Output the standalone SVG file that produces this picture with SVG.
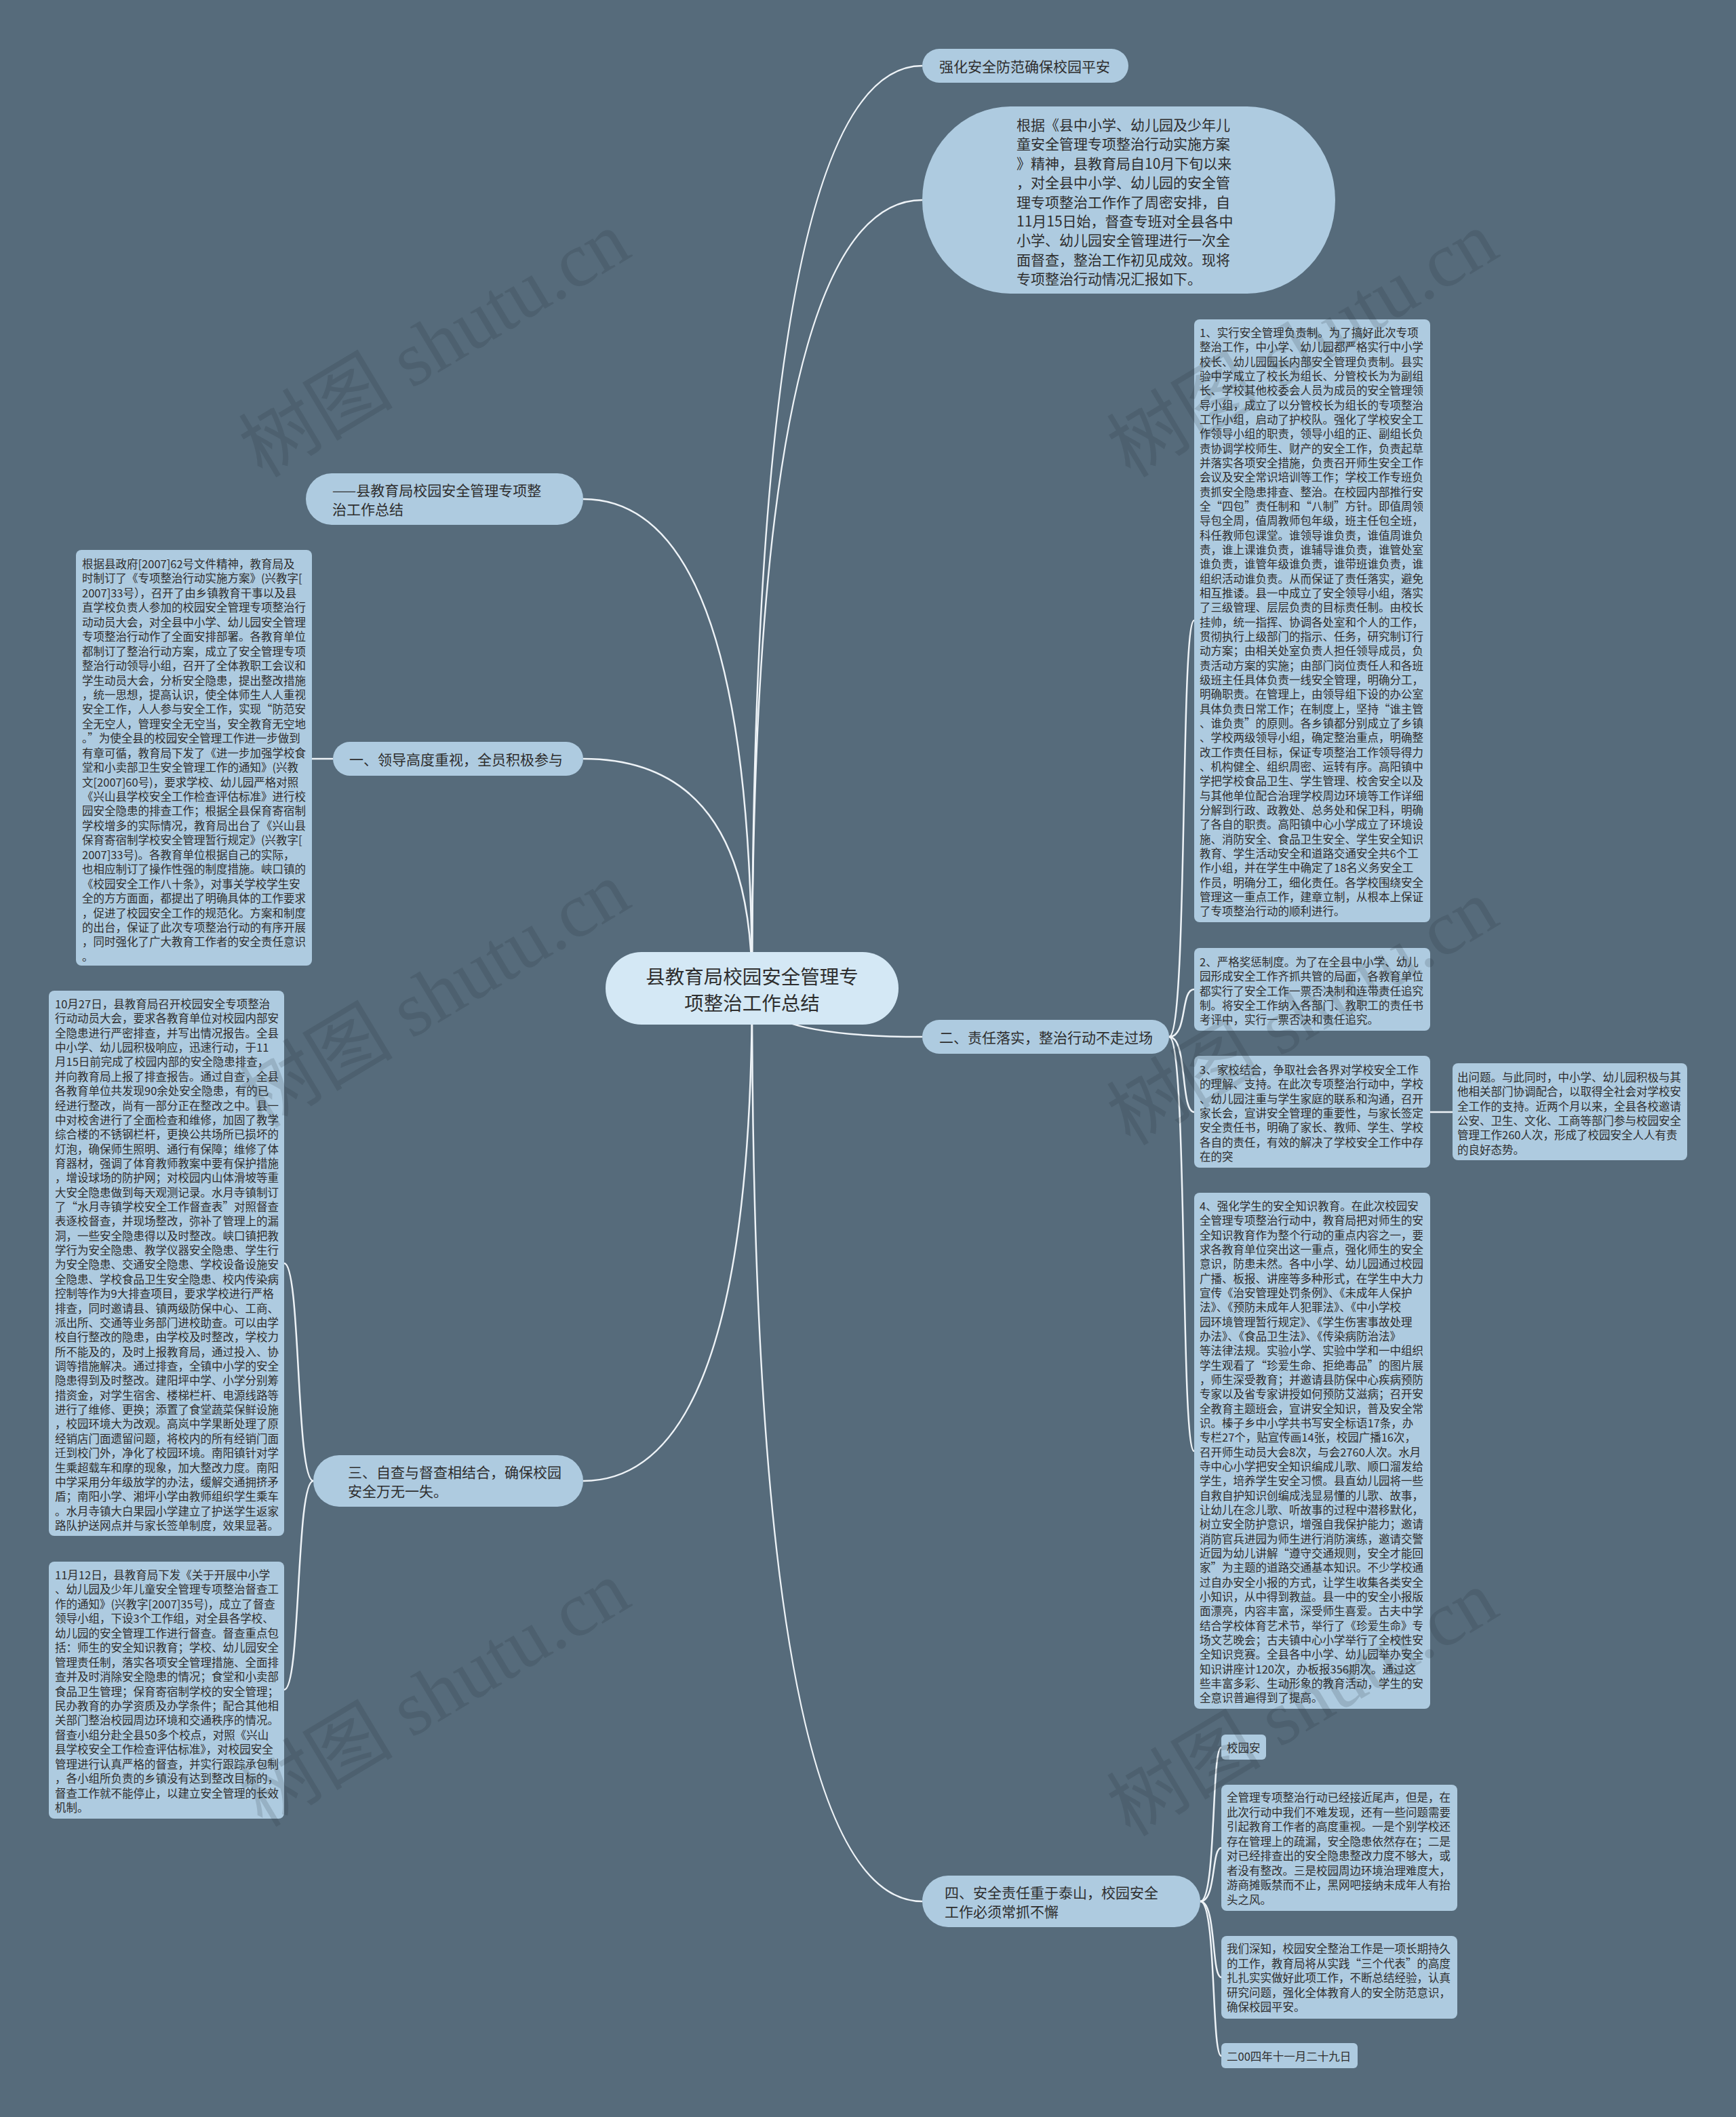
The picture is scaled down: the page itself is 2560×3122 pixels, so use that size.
<svg xmlns="http://www.w3.org/2000/svg" width="2560" height="3122" viewBox="0 0 2560 3122">
<defs>
<style>
.n{fill:#aecbe0}
.t{font-family:"Noto Sans CJK SC","Noto Sans",sans-serif;fill:#2e2e2e;dominant-baseline:central}
.p{font-size:16.5px}
.m{font-size:21px}
.c{fill:none;stroke:#eef3f7;stroke-width:2.5}
.w{font-family:"Liberation Serif","Noto Sans CJK SC",serif;font-size:114px;fill:#1f2a33;fill-opacity:0.16;dominant-baseline:central}
</style>
</defs>
<rect x="0" y="0" width="2560" height="3122" fill="#566b7b"/>
<g id="connectors">
<path class="c" d="M1109,1457 Q1109,97 1360,97"/>
<path class="c" d="M1109,1457 Q1109,295 1360,295"/>
<path class="c" d="M1109,1457 Q1109,736 860,736"/>
<path class="c" d="M1109,1457 Q1109,1119 860,1119"/>
<path class="c" d="M1109,1457 Q1109,1529 1360,1529"/>
<path class="c" d="M1109,1457 Q1109,2184 860,2184"/>
<path class="c" d="M1109,1457 Q1109,2804 1360,2804"/>
<path class="c" d="M491,1119 L460,1119"/>
<path class="c" d="M462,2184 C436,2184 444,1863 419,1863"/>
<path class="c" d="M462,2184 C436,2184 444,2492 419,2492"/>
<path class="c" d="M1724,1529 C1752,1529 1740,915 1761,915"/>
<path class="c" d="M1724,1529 C1752,1529 1740,1459 1761,1459"/>
<path class="c" d="M1724,1529 C1752,1529 1740,1640 1761,1640"/>
<path class="c" d="M1724,1529 C1752,1529 1740,2140 1761,2140"/>
<path class="c" d="M2109,1640 L2142,1640"/>
<path class="c" d="M1770,2804 C1794,2804 1786,2577 1801,2577"/>
<path class="c" d="M1770,2804 C1794,2804 1786,2725 1801,2725"/>
<path class="c" d="M1770,2804 C1794,2804 1786,2916 1801,2916"/>
<path class="c" d="M1770,2804 C1794,2804 1786,3032 1801,3032"/>
</g>
<g id="root">
<rect x="893" y="1404" width="432" height="107" rx="53" fill="#d4e8f5"/>
<text class="t" style="font-size:28.5px" text-anchor="middle"><tspan x="1109" y="1438">县教育局校园安全管理专</tspan><tspan x="1109" y="1477">项整治工作总结</tspan></text>
</g>
<g id="n-qianghua">
<rect class="n" x="1360" y="72" width="304" height="50" rx="25"/>
<text class="t m" x="1385" y="97">强化安全防范确保校园平安</text>
</g>
<g id="n-intro">
<rect class="n" x="1360" y="157" width="609" height="276" rx="130" ry="138"/>
<text class="t m"><tspan x="1499" y="183">根据《县中小学、幼儿园及少年儿</tspan><tspan x="1499" dy="28.4">童安全管理专项整治行动实施方案</tspan><tspan x="1499" dy="28.4">》精神，县教育局自10月下旬以来</tspan><tspan x="1499" dy="28.4">，对全县中小学、幼儿园的安全管</tspan><tspan x="1499" dy="28.4">理专项整治工作作了周密安排，自</tspan><tspan x="1499" dy="28.4">11月15日始，督查专班对全县各中</tspan><tspan x="1499" dy="28.4">小学、幼儿园安全管理进行一次全</tspan><tspan x="1499" dy="28.4">面督查，整治工作初见成效。现将</tspan><tspan x="1499" dy="28.4">专项整治行动情况汇报如下。</tspan></text>
</g>
<g id="n-subtitle">
<rect class="n" x="451" y="698" width="409" height="76" rx="38"/>
<text class="t m"><tspan x="490" y="722">——县教育局校园安全管理专项整</tspan><tspan x="490" dy="28">治工作总结</tspan></text>
</g>
<g id="n-branch1">
<rect class="n" x="491" y="1094" width="369" height="50" rx="25"/>
<text class="t m" x="515" y="1119">一、领导高度重视，全员积极参与</text>
</g>
<g id="n-branch1-text">
<rect class="n" x="112" y="811" width="348" height="613" rx="8"/>
<text class="t p"><tspan x="121" y="831">根据县政府[2007]62号文件精神，教育局及</tspan><tspan x="121" dy="21.44">时制订了《专项整治行动实施方案》(兴教字[</tspan><tspan x="121" dy="21.44">2007]33号），召开了由乡镇教育干事以及县</tspan><tspan x="121" dy="21.44">直学校负责人参加的校园安全管理专项整治行</tspan><tspan x="121" dy="21.44">动动员大会，对全县中小学、幼儿园安全管理</tspan><tspan x="121" dy="21.44">专项整治行动作了全面安排部署。各教育单位</tspan><tspan x="121" dy="21.44">都制订了整治行动方案，成立了安全管理专项</tspan><tspan x="121" dy="21.44">整治行动领导小组，召开了全体教职工会议和</tspan><tspan x="121" dy="21.44">学生动员大会，分析安全隐患，提出整改措施</tspan><tspan x="121" dy="21.44">，统一思想，提高认识，使全体师生人人重视</tspan><tspan x="121" dy="21.44">安全工作，人人参与安全工作，实现“防范安</tspan><tspan x="121" dy="21.44">全无空人，管理安全无空当，安全教育无空地</tspan><tspan x="121" dy="21.44">。”为使全县的校园安全管理工作进一步做到</tspan><tspan x="121" dy="21.44">有章可循，教育局下发了《进一步加强学校食</tspan><tspan x="121" dy="21.44">堂和小卖部卫生安全管理工作的通知》(兴教</tspan><tspan x="121" dy="21.44">文[2007]60号)，要求学校、幼儿园严格对照</tspan><tspan x="121" dy="21.44">《兴山县学校安全工作检查评估标准》进行校</tspan><tspan x="121" dy="21.44">园安全隐患的排查工作；根据全县保育寄宿制</tspan><tspan x="121" dy="21.44">学校增多的实际情况，教育局出台了《兴山县</tspan><tspan x="121" dy="21.44">保育寄宿制学校安全管理暂行规定》(兴教字[</tspan><tspan x="121" dy="21.44">2007]33号)。各教育单位根据自己的实际，</tspan><tspan x="121" dy="21.44">也相应制订了操作性强的制度措施。峡口镇的</tspan><tspan x="121" dy="21.44">《校园安全工作八十条》，对事关学校学生安</tspan><tspan x="121" dy="21.44">全的方方面面，都提出了明确具体的工作要求</tspan><tspan x="121" dy="21.44">，促进了校园安全工作的规范化。方案和制度</tspan><tspan x="121" dy="21.44">的出台，保证了此次专项整治行动的有序开展</tspan><tspan x="121" dy="21.44">，同时强化了广大教育工作者的安全责任意识</tspan><tspan x="121" dy="21.44">。</tspan></text>
</g>
<g id="n-branch2">
<rect class="n" x="1360" y="1504" width="364" height="50" rx="25"/>
<text class="t m" x="1385" y="1529">二、责任落实，整治行动不走过场</text>
</g>
<g id="n-branch2-1">
<rect class="n" x="1761" y="471" width="348" height="889" rx="8"/>
<text class="t p"><tspan x="1769" y="490">1、实行安全管理负责制。为了搞好此次专项</tspan><tspan x="1769" dy="21.33">整治工作，中小学、幼儿园都严格实行中小学</tspan><tspan x="1769" dy="21.33">校长、幼儿园园长内部安全管理负责制。县实</tspan><tspan x="1769" dy="21.33">验中学成立了校长为组长、分管校长为为副组</tspan><tspan x="1769" dy="21.33">长、学校其他校委会人员为成员的安全管理领</tspan><tspan x="1769" dy="21.33">导小组，成立了以分管校长为组长的专项整治</tspan><tspan x="1769" dy="21.33">工作小组，启动了护校队。强化了学校安全工</tspan><tspan x="1769" dy="21.33">作领导小组的职责，领导小组的正、副组长负</tspan><tspan x="1769" dy="21.33">责协调学校师生、财产的安全工作，负责起草</tspan><tspan x="1769" dy="21.33">并落实各项安全措施，负责召开师生安全工作</tspan><tspan x="1769" dy="21.33">会议及安全常识培训等工作；学校工作专班负</tspan><tspan x="1769" dy="21.33">责抓安全隐患排查、整治。在校园内部推行安</tspan><tspan x="1769" dy="21.33">全“四包”责任制和“八制”方针。即值周领</tspan><tspan x="1769" dy="21.33">导包全周，值周教师包年级，班主任包全班，</tspan><tspan x="1769" dy="21.33">科任教师包课堂。谁领导谁负责，谁值周谁负</tspan><tspan x="1769" dy="21.33">责，谁上课谁负责，谁辅导谁负责，谁管处室</tspan><tspan x="1769" dy="21.33">谁负责，谁管年级谁负责，谁带班谁负责，谁</tspan><tspan x="1769" dy="21.33">组织活动谁负责。从而保证了责任落实，避免</tspan><tspan x="1769" dy="21.33">相互推诿。县一中成立了安全领导小组，落实</tspan><tspan x="1769" dy="21.33">了三级管理、层层负责的目标责任制。由校长</tspan><tspan x="1769" dy="21.33">挂帅，统一指挥、协调各处室和个人的工作，</tspan><tspan x="1769" dy="21.33">贯彻执行上级部门的指示、任务，研究制订行</tspan><tspan x="1769" dy="21.33">动方案；由相关处室负责人担任领导成员，负</tspan><tspan x="1769" dy="21.33">责活动方案的实施；由部门岗位责任人和各班</tspan><tspan x="1769" dy="21.33">级班主任具体负责一线安全管理，明确分工，</tspan><tspan x="1769" dy="21.33">明确职责。在管理上，由领导组下设的办公室</tspan><tspan x="1769" dy="21.33">具体负责日常工作；在制度上，坚持“谁主管</tspan><tspan x="1769" dy="21.33">、谁负责”的原则。各乡镇都分别成立了乡镇</tspan><tspan x="1769" dy="21.33">、学校两级领导小组，确定整治重点，明确整</tspan><tspan x="1769" dy="21.33">改工作责任目标，保证专项整治工作领导得力</tspan><tspan x="1769" dy="21.33">、机构健全、组织周密、运转有序。高阳镇中</tspan><tspan x="1769" dy="21.33">学把学校食品卫生、学生管理、校舍安全以及</tspan><tspan x="1769" dy="21.33">与其他单位配合治理学校周边环境等工作详细</tspan><tspan x="1769" dy="21.33">分解到行政、政教处、总务处和保卫科，明确</tspan><tspan x="1769" dy="21.33">了各自的职责。高阳镇中心小学成立了环境设</tspan><tspan x="1769" dy="21.33">施、消防安全、食品卫生安全、学生安全知识</tspan><tspan x="1769" dy="21.33">教育、学生活动安全和道路交通安全共6个工</tspan><tspan x="1769" dy="21.33">作小组，并在学生中确定了18名义务安全工</tspan><tspan x="1769" dy="21.33">作员，明确分工，细化责任。各学校围绕安全</tspan><tspan x="1769" dy="21.33">管理这一重点工作，建章立制，从根本上保证</tspan><tspan x="1769" dy="21.33">了专项整治行动的顺利进行。</tspan></text>
</g>
<g id="n-branch2-2">
<rect class="n" x="1761" y="1398" width="348" height="122" rx="8"/>
<text class="t p"><tspan x="1769" y="1418">2、严格奖惩制度。为了在全县中小学、幼儿</tspan><tspan x="1769" dy="21.33">园形成安全工作齐抓共管的局面，各教育单位</tspan><tspan x="1769" dy="21.33">都实行了安全工作一票否决制和连带责任追究</tspan><tspan x="1769" dy="21.33">制。将安全工作纳入各部门、教职工的责任书</tspan><tspan x="1769" dy="21.33">考评中，实行一票否决和责任追究。</tspan></text>
</g>
<g id="n-branch2-3">
<rect class="n" x="1761" y="1557" width="348" height="165" rx="8"/>
<text class="t p"><tspan x="1769" y="1577">3、家校结合，争取社会各界对学校安全工作</tspan><tspan x="1769" dy="21.33">的理解、支持。在此次专项整治行动中，学校</tspan><tspan x="1769" dy="21.33">、幼儿园注重与学生家庭的联系和沟通，召开</tspan><tspan x="1769" dy="21.33">家长会，宣讲安全管理的重要性，与家长签定</tspan><tspan x="1769" dy="21.33">安全责任书，明确了家长、教师、学生、学校</tspan><tspan x="1769" dy="21.33">各自的责任，有效的解决了学校安全工作中存</tspan><tspan x="1769" dy="21.33">在的突</tspan></text>
</g>
<g id="n-branch2-3a">
<rect class="n" x="2142" y="1568" width="346" height="143" rx="8"/>
<text class="t p"><tspan x="2149" y="1588">出问题。与此同时，中小学、幼儿园积极与其</tspan><tspan x="2149" dy="21.33">他相关部门协调配合，以取得全社会对学校安</tspan><tspan x="2149" dy="21.33">全工作的支持。近两个月以来，全县各校邀请</tspan><tspan x="2149" dy="21.33">公安、卫生、文化、工商等部门参与校园安全</tspan><tspan x="2149" dy="21.33">管理工作260人次，形成了校园安全人人有责</tspan><tspan x="2149" dy="21.33">的良好态势。</tspan></text>
</g>
<g id="n-branch2-4">
<rect class="n" x="1761" y="1759" width="348" height="761" rx="8"/>
<text class="t p"><tspan x="1769" y="1778">4、强化学生的安全知识教育。在此次校园安</tspan><tspan x="1769" dy="21.33">全管理专项整治行动中，教育局把对师生的安</tspan><tspan x="1769" dy="21.33">全知识教育作为整个行动的重点内容之一，要</tspan><tspan x="1769" dy="21.33">求各教育单位突出这一重点，强化师生的安全</tspan><tspan x="1769" dy="21.33">意识，防患未然。各中小学、幼儿园通过校园</tspan><tspan x="1769" dy="21.33">广播、板报、讲座等多种形式，在学生中大力</tspan><tspan x="1769" dy="21.33">宣传《治安管理处罚条例》、《未成年人保护</tspan><tspan x="1769" dy="21.33">法》、《预防未成年人犯罪法》、《中小学校</tspan><tspan x="1769" dy="21.33">园环境管理暂行规定》、《学生伤害事故处理</tspan><tspan x="1769" dy="21.33">办法》、《食品卫生法》、《传染病防治法》</tspan><tspan x="1769" dy="21.33">等法律法规。实验小学、实验中学和一中组织</tspan><tspan x="1769" dy="21.33">学生观看了“珍爱生命、拒绝毒品”的图片展</tspan><tspan x="1769" dy="21.33">，师生深受教育；并邀请县防保中心疾病预防</tspan><tspan x="1769" dy="21.33">专家以及省专家讲授如何预防艾滋病；召开安</tspan><tspan x="1769" dy="21.33">全教育主题班会，宣讲安全知识，普及安全常</tspan><tspan x="1769" dy="21.33">识。榛子乡中小学共书写安全标语17条，办</tspan><tspan x="1769" dy="21.33">专栏27个，贴宣传画14张，校园广播16次，</tspan><tspan x="1769" dy="21.33">召开师生动员大会8次，与会2760人次。水月</tspan><tspan x="1769" dy="21.33">寺中心小学把安全知识编成儿歌、顺口溜发给</tspan><tspan x="1769" dy="21.33">学生，培养学生安全习惯。县直幼儿园将一些</tspan><tspan x="1769" dy="21.33">自救自护知识创编成浅显易懂的儿歌、故事，</tspan><tspan x="1769" dy="21.33">让幼儿在念儿歌、听故事的过程中潜移默化，</tspan><tspan x="1769" dy="21.33">树立安全防护意识，增强自我保护能力；邀请</tspan><tspan x="1769" dy="21.33">消防官兵进园为师生进行消防演练，邀请交警</tspan><tspan x="1769" dy="21.33">近园为幼儿讲解“遵守交通规则，安全才能回</tspan><tspan x="1769" dy="21.33">家”为主题的道路交通基本知识。不少学校通</tspan><tspan x="1769" dy="21.33">过自办安全小报的方式，让学生收集各类安全</tspan><tspan x="1769" dy="21.33">小知识，从中得到教益。县一中的安全小报版</tspan><tspan x="1769" dy="21.33">面漂亮，内容丰富，深受师生喜爱。古夫中学</tspan><tspan x="1769" dy="21.33">结合学校体育艺术节，举行了《珍爱生命》专</tspan><tspan x="1769" dy="21.33">场文艺晚会；古夫镇中心小学举行了全校性安</tspan><tspan x="1769" dy="21.33">全知识竞赛。全县各中小学、幼儿园举办安全</tspan><tspan x="1769" dy="21.33">知识讲座计120次，办板报356期次。通过这</tspan><tspan x="1769" dy="21.33">些丰富多彩、生动形象的教育活动，学生的安</tspan><tspan x="1769" dy="21.33">全意识普遍得到了提高。</tspan></text>
</g>
<g id="n-branch3">
<rect class="n" x="462" y="2146" width="398" height="76" rx="38"/>
<text class="t m"><tspan x="513" y="2170">三、自查与督查相结合，确保校园</tspan><tspan x="513" dy="28">安全万无一失。</tspan></text>
</g>
<g id="n-branch3-1">
<rect class="n" x="72" y="1461" width="347" height="804" rx="8"/>
<text class="t p"><tspan x="81" y="1480">10月27日，县教育局召开校园安全专项整治</tspan><tspan x="81" dy="21.36">行动动员大会，要求各教育单位对校园内部安</tspan><tspan x="81" dy="21.36">全隐患进行严密排查，并写出情况报告。全县</tspan><tspan x="81" dy="21.36">中小学、幼儿园积极响应，迅速行动，于11</tspan><tspan x="81" dy="21.36">月15日前完成了校园内部的安全隐患排查，</tspan><tspan x="81" dy="21.36">并向教育局上报了排查报告。通过自查，全县</tspan><tspan x="81" dy="21.36">各教育单位共发现90余处安全隐患，有的已</tspan><tspan x="81" dy="21.36">经进行整改，尚有一部分正在整改之中。县一</tspan><tspan x="81" dy="21.36">中对校舍进行了全面检查和维修，加固了教学</tspan><tspan x="81" dy="21.36">综合楼的不锈钢栏杆，更换公共场所已损坏的</tspan><tspan x="81" dy="21.36">灯泡，确保师生照明、通行有保障；维修了体</tspan><tspan x="81" dy="21.36">育器材，强调了体育教师教案中要有保护措施</tspan><tspan x="81" dy="21.36">，增设球场的防护网；对校园内山体滑坡等重</tspan><tspan x="81" dy="21.36">大安全隐患做到每天观测记录。水月寺镇制订</tspan><tspan x="81" dy="21.36">了“水月寺镇学校安全工作督查表”对照督查</tspan><tspan x="81" dy="21.36">表逐校督查，并现场整改，弥补了管理上的漏</tspan><tspan x="81" dy="21.36">洞，一些安全隐患得以及时整改。峡口镇把教</tspan><tspan x="81" dy="21.36">学行为安全隐患、教学仪器安全隐患、学生行</tspan><tspan x="81" dy="21.36">为安全隐患、交通安全隐患、学校设备设施安</tspan><tspan x="81" dy="21.36">全隐患、学校食品卫生安全隐患、校内传染病</tspan><tspan x="81" dy="21.36">控制等作为9大排查项目，要求学校进行严格</tspan><tspan x="81" dy="21.36">排查，同时邀请县、镇两级防保中心、工商、</tspan><tspan x="81" dy="21.36">派出所、交通等业务部门进校助查。可以由学</tspan><tspan x="81" dy="21.36">校自行整改的隐患，由学校及时整改，学校力</tspan><tspan x="81" dy="21.36">所不能及的，及时上报教育局，通过投入、协</tspan><tspan x="81" dy="21.36">调等措施解决。通过排查，全镇中小学的安全</tspan><tspan x="81" dy="21.36">隐患得到及时整改。建阳坪中学、小学分别筹</tspan><tspan x="81" dy="21.36">措资金，对学生宿舍、楼梯栏杆、电源线路等</tspan><tspan x="81" dy="21.36">进行了维修、更换；添置了食堂蔬菜保鲜设施</tspan><tspan x="81" dy="21.36">，校园环境大为改观。高岚中学果断处理了原</tspan><tspan x="81" dy="21.36">经销店门面遗留问题，将校内的所有经销门面</tspan><tspan x="81" dy="21.36">迁到校门外，净化了校园环境。南阳镇针对学</tspan><tspan x="81" dy="21.36">生乘超载车和摩的现象，加大整改力度。南阳</tspan><tspan x="81" dy="21.36">中学采用分年级放学的办法，缓解交通拥挤矛</tspan><tspan x="81" dy="21.36">盾；南阳小学、湘坪小学由教师组织学生乘车</tspan><tspan x="81" dy="21.36">。水月寺镇大白果园小学建立了护送学生返家</tspan><tspan x="81" dy="21.36">路队护送网点并与家长签单制度，效果显著。</tspan></text>
</g>
<g id="n-branch3-2">
<rect class="n" x="72" y="2303" width="347" height="379" rx="8"/>
<text class="t p"><tspan x="81" y="2322">11月12日，县教育局下发《关于开展中小学</tspan><tspan x="81" dy="21.44">、幼儿园及少年儿童安全管理专项整治督查工</tspan><tspan x="81" dy="21.44">作的通知》(兴教字[2007]35号)，成立了督查</tspan><tspan x="81" dy="21.44">领导小组，下设3个工作组，对全县各学校、</tspan><tspan x="81" dy="21.44">幼儿园的安全管理工作进行督查。督查重点包</tspan><tspan x="81" dy="21.44">括：师生的安全知识教育；学校、幼儿园安全</tspan><tspan x="81" dy="21.44">管理责任制，落实各项安全管理措施、全面排</tspan><tspan x="81" dy="21.44">查并及时消除安全隐患的情况；食堂和小卖部</tspan><tspan x="81" dy="21.44">食品卫生管理；保育寄宿制学校的安全管理；</tspan><tspan x="81" dy="21.44">民办教育的办学资质及办学条件；配合其他相</tspan><tspan x="81" dy="21.44">关部门整治校园周边环境和交通秩序的情况。</tspan><tspan x="81" dy="21.44">督查小组分赴全县50多个校点，对照《兴山</tspan><tspan x="81" dy="21.44">县学校安全工作检查评估标准》，对校园安全</tspan><tspan x="81" dy="21.44">管理进行认真严格的督查，并实行跟踪承包制</tspan><tspan x="81" dy="21.44">，各小组所负责的乡镇没有达到整改目标的，</tspan><tspan x="81" dy="21.44">督查工作就不能停止，以建立安全管理的长效</tspan><tspan x="81" dy="21.44">机制。</tspan></text>
</g>
<g id="n-branch4">
<rect class="n" x="1360" y="2766" width="410" height="76" rx="38"/>
<text class="t m"><tspan x="1393" y="2790">四、安全责任重于泰山，校园安全</tspan><tspan x="1393" dy="28">工作必须常抓不懈</tspan></text>
</g>
<g id="n-branch4-1">
<rect class="n" x="1801" y="2558" width="66" height="37" rx="6"/>
<text class="t p" x="1809" y="2577">校园安</text>
</g>
<g id="n-branch4-2">
<rect class="n" x="1801" y="2632" width="348" height="186" rx="8"/>
<text class="t p"><tspan x="1809" y="2650">全管理专项整治行动已经接近尾声，但是，在</tspan><tspan x="1809" dy="21.5">此次行动中我们不难发现，还有一些问题需要</tspan><tspan x="1809" dy="21.5">引起教育工作者的高度重视。一是个别学校还</tspan><tspan x="1809" dy="21.5">存在管理上的疏漏，安全隐患依然存在；二是</tspan><tspan x="1809" dy="21.5">对已经排查出的安全隐患整改力度不够大，或</tspan><tspan x="1809" dy="21.5">者没有整改。三是校园周边环境治理难度大，</tspan><tspan x="1809" dy="21.5">游商摊贩禁而不止，黑网吧接纳未成年人有抬</tspan><tspan x="1809" dy="21.5">头之风。</tspan></text>
</g>
<g id="n-branch4-3">
<rect class="n" x="1801" y="2855" width="348" height="122" rx="8"/>
<text class="t p"><tspan x="1809" y="2873">我们深知，校园安全整治工作是一项长期持久</tspan><tspan x="1809" dy="21.5">的工作，教育局将从实践“三个代表”的高度</tspan><tspan x="1809" dy="21.5">扎扎实实做好此项工作，不断总结经验，认真</tspan><tspan x="1809" dy="21.5">研究问题，强化全体教育人的安全防范意识，</tspan><tspan x="1809" dy="21.5">确保校园平安。</tspan></text>
</g>
<g id="n-branch4-4">
<rect class="n" x="1801" y="3013" width="201" height="37" rx="6"/>
<text class="t p" x="1809" y="3032">二00四年十一月二十九日</text>
</g>
<g id="watermarks">
<text class="w" text-anchor="middle" transform="translate(641,508) rotate(-31)">树图 shutu.cn</text>
<text class="w" text-anchor="middle" transform="translate(1921,508) rotate(-31)">树图 shutu.cn</text>
<text class="w" text-anchor="middle" transform="translate(641,1467) rotate(-31)">树图 shutu.cn</text>
<text class="w" text-anchor="middle" transform="translate(1921,1493) rotate(-31)">树图 shutu.cn</text>
<text class="w" text-anchor="middle" transform="translate(641,2498) rotate(-31)">树图 shutu.cn</text>
<text class="w" text-anchor="middle" transform="translate(1921,2512) rotate(-31)">树图 shutu.cn</text>
</g>
</svg>
